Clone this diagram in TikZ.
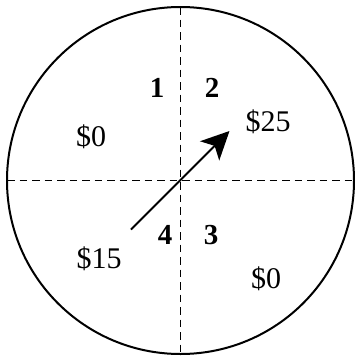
\documentclass[tikz,border=0pt]{standalone}
\usepackage{fontspec}
\setmainfont{Liberation Serif}
\usetikzlibrary{arrows.meta}
\begin{document}
\begin{tikzpicture}[x=1pt,y=-1pt,
  money/.style={font=\fontsize{30}{32}\selectfont, inner sep=0pt},
  sector/.style={font=\fontsize{29}{31}\selectfont\bfseries, inner sep=0pt},
  divider/.style={line width=1.8pt, dash pattern=on 7.5pt off 5pt},
  rim/.style={line width=2pt},
  pointer/.style={line width=2pt, -{Stealth[length=28pt,width=27pt,inset=7pt]}}]
\useasboundingbox (0,0) rectangle (355,356);
\coordinate (c) at (180.5,180.5);
\coordinate (top) at (180.5,7);
\coordinate (bot) at (180.5,354);
\coordinate (lft) at (7,180.5);
\coordinate (rgt) at (352,180.5);
\draw[divider] (top) -- (bot);
\draw[divider] (lft) -- (rgt);
\draw[rim] (c) circle[radius=173.5];
\coordinate (tail) at (131,229.5);
\coordinate (tip) at (229.5,131);
\draw[pointer] (tail) -- (tip);
\node[sector] (n1) at (157,88) {1};
\node[sector] (n2) at (212,88) {2};
\node[sector] (n4) at (165,235) {4};
\node[sector] (n3) at (211,235) {3};
\node[money] (m0a) at (91,137) {\$0};
\node[money] (m25) at (268,122) {\$25};
\node[money] (m15) at (99,259) {\$15};
\node[money] (m0b) at (266,279) {\$0};
\end{tikzpicture}
\end{document}
